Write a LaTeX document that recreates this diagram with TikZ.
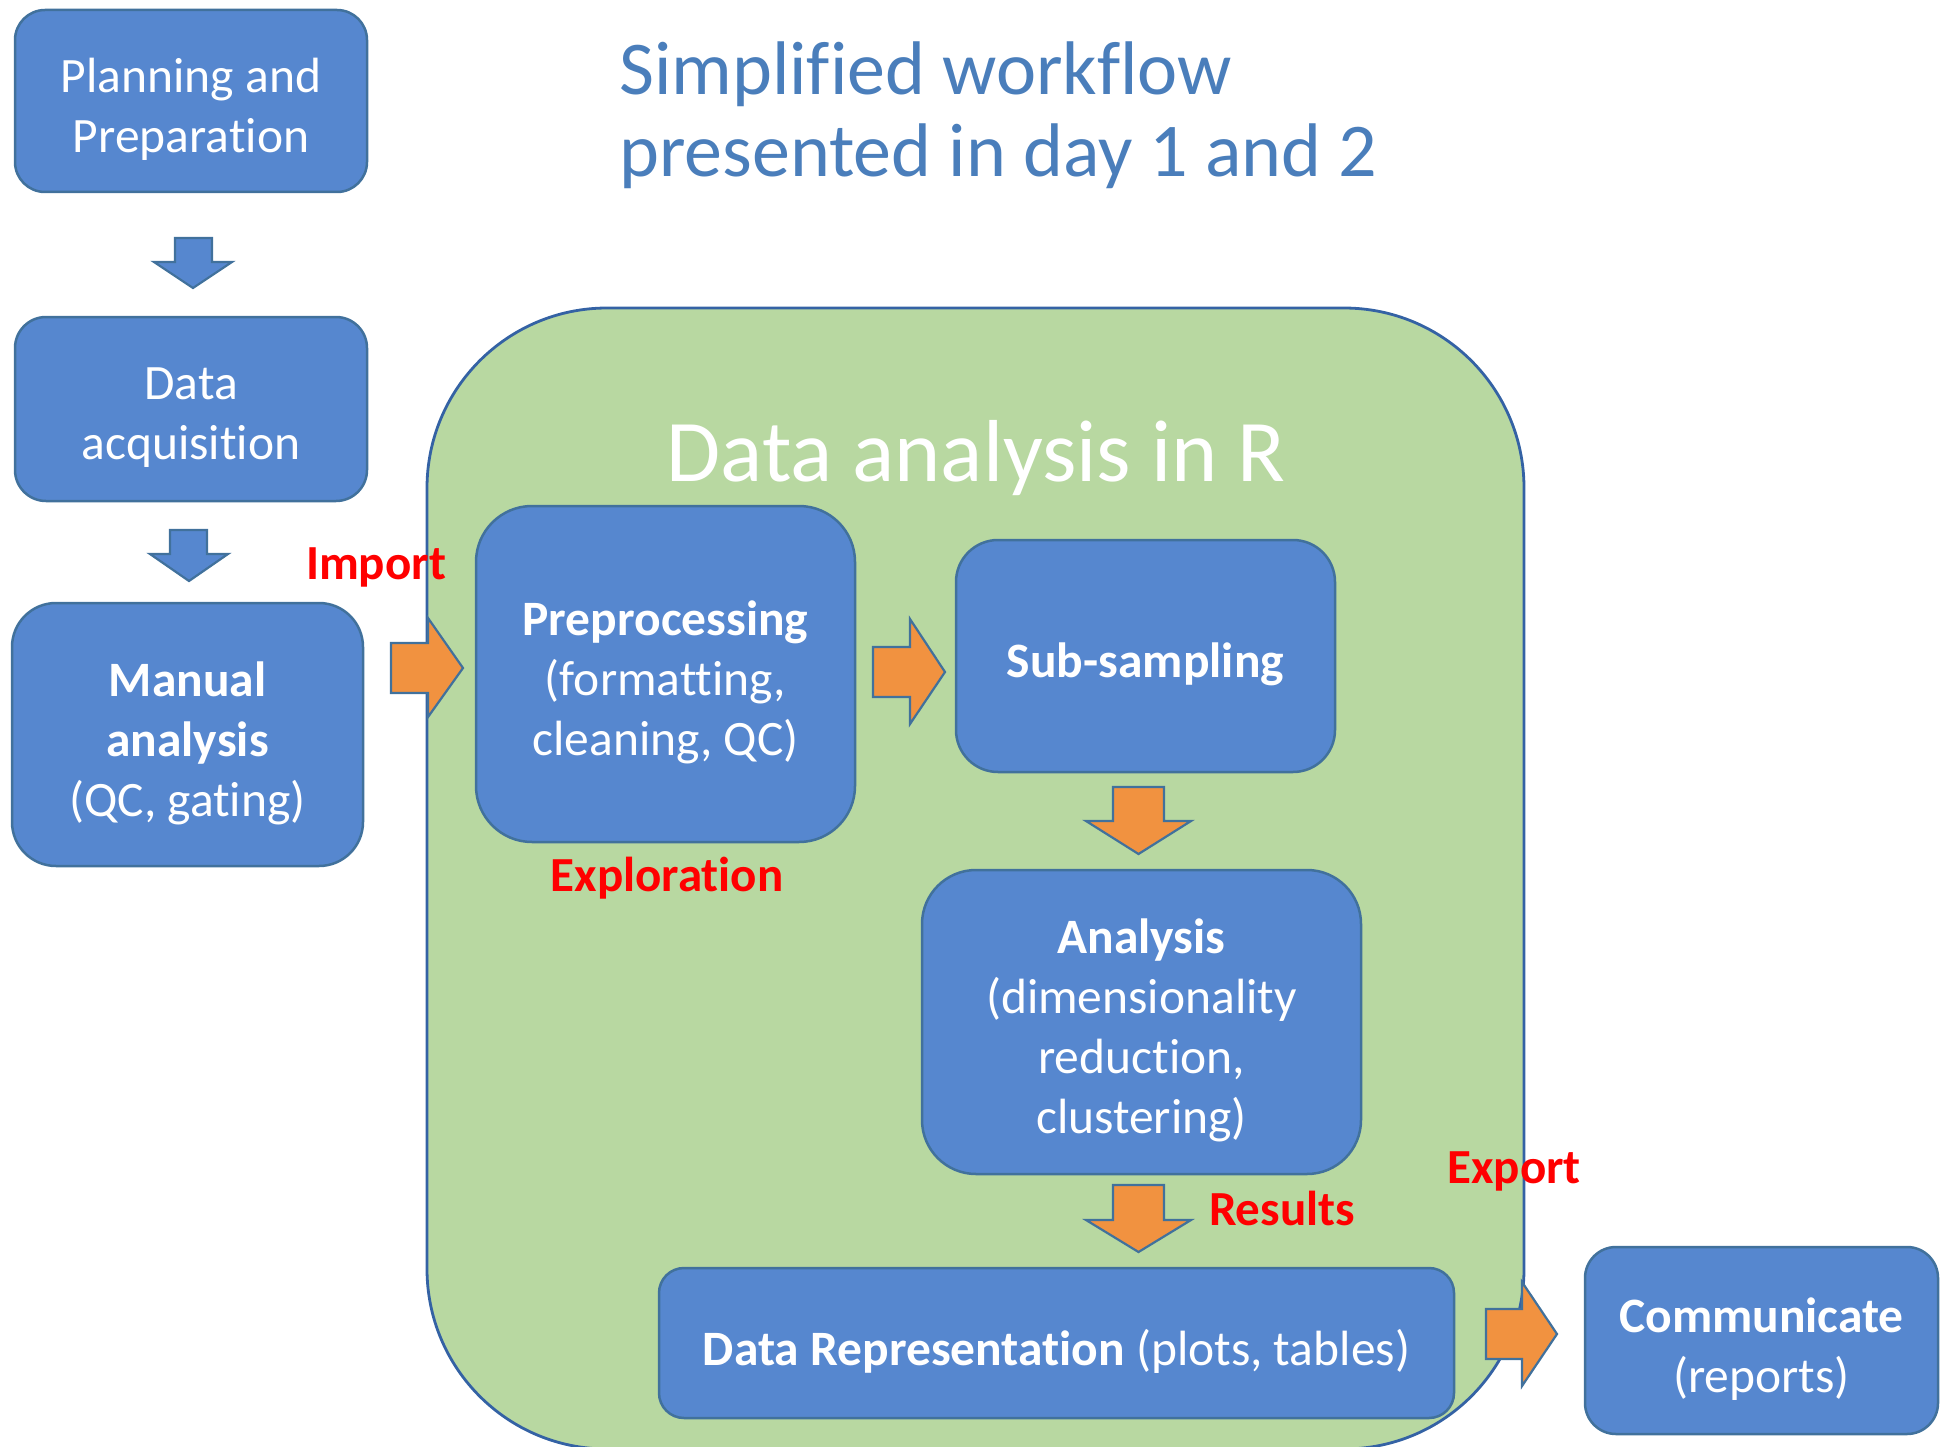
\documentclass[tikz,border=0pt]{standalone}
\usepackage{fontspec}
\setmainfont{Carlito}[Ligatures=NoCommon]
\definecolor{boxblue}{RGB}{86,135,207}
\definecolor{boxline}{RGB}{65,113,156}
\definecolor{panelgreen}{RGB}{184,216,161}
\definecolor{panelline}{RGB}{52,98,164}
\definecolor{flowarrow}{RGB}{241,146,64}
\definecolor{titleblue}{RGB}{74,126,187}
\tikzset{
  stepbox/.style={draw=boxline, fill=boxblue, line width=2.5pt, inner sep=0pt},
  steptext/.style={text=white, align=center, inner sep=0pt,
    font=\fontsize{49.5}{60}\selectfont, yshift=-8.5pt},
  bluearrow/.style={draw=boxline, fill=boxblue, line width=2.2pt},
  orangearrow/.style={draw=boxline, fill=flowarrow, line width=2.2pt},
  redlabel/.style={text=red, font=\fontsize{49}{58}\selectfont\bfseries,
    inner sep=0pt, anchor=base},
}
\begin{document}
\begin{tikzpicture}[x=1pt,y=-1pt]
\useasboundingbox (0,0) rectangle (1945,1447);

% green panel for the R part of the workflow
\draw[draw=panelline, fill=panelgreen, line width=2.8pt, rounded corners=180pt]
  (427,308) rectangle (1524,1449);
\node[text=white, font=\fontsize{88}{100}\selectfont, inner sep=0pt, anchor=base]
  (paneltitle) at (976,481) {Data analysis in R};

% heading
\node[text=titleblue, font=\fontsize{76}{83}\selectfont, inner sep=0pt, anchor=base west]
  (head1) at (619,95) {Simplified workflow};
\node[text=titleblue, font=\fontsize{76}{83}\selectfont, inner sep=0pt, anchor=base west]
  (head2) at (619,177) {presented in day 1 and 2};

% step boxes
\node[stepbox, minimum width=352pt, minimum height=182pt, rounded corners=30pt]
  (plan) at (191,101) {};
\node[stepbox, minimum width=352pt, minimum height=184pt, rounded corners=31pt]
  (acq) at (191,409) {};
\node[stepbox, minimum width=351pt, minimum height=263pt, rounded corners=44pt]
  (manual) at (187.5,734.5) {};
\node[stepbox, minimum width=379pt, minimum height=336pt, rounded corners=56pt]
  (prep) at (665.5,674) {};
\node[stepbox, minimum width=379pt, minimum height=232pt, rounded corners=42pt]
  (sub) at (1145.5,656) {};
\node[stepbox, minimum width=439pt, minimum height=304pt, rounded corners=54pt]
  (ana) at (1141.5,1022) {};
\node[stepbox, minimum width=795pt, minimum height=150pt, rounded corners=25pt]
  (rep) at (1056.5,1343) {};
\node[stepbox, minimum width=353pt, minimum height=187pt, rounded corners=31pt]
  (comm) at (1761.5,1340.5) {};

% step texts
\node[steptext] (plantext) at (plan.center) {Planning and\\Preparation};
\node[steptext] (acqtext) at (acq.center) {Data\\acquisition};
\node[steptext] (manualtext) at (manual.center)
  {\textbf{Manual}\\\textbf{analysis}\\(QC, gating)};
\node[steptext] (preptext) at (prep.center)
  {\textbf{Preprocessing}\\(formatting,\\cleaning, QC)};
\node[steptext] (subtext) at (sub.center) {\textbf{Sub-sampling}};
\node[steptext] (anatext) at (ana.center)
  {\textbf{Analysis}\\(dimensionality\\reduction,\\clustering)};
\node[steptext] (reptext) at (rep.center) {\textbf{Data Representation} (plots, tables)};
\node[steptext] (commtext) at (comm.center) {\textbf{Communicate}\\(reports)};

% block arrows between the steps
\draw[bluearrow] (175,238) -- (212,238) -- (212,262) -- (232,262) -- (193,288)
  -- (154,262) -- (175,262) -- cycle;
\draw[bluearrow] (170,530) -- (207,530) -- (207,554) -- (228,554) -- (189,581)
  -- (150,554) -- (170,554) -- cycle;
\draw[orangearrow] (391,643) -- (428,643) -- (428,618) -- (463,668) -- (428,717)
  -- (428,693) -- (391,693) -- cycle;
\draw[orangearrow] (873,647) -- (910,647) -- (910,619) -- (945,672) -- (910,724)
  -- (910,697) -- (873,697) -- cycle;
\draw[orangearrow] (1113,787) -- (1164,787) -- (1164,821) -- (1191,821) -- (1138.5,854)
  -- (1086,821) -- (1113,821) -- cycle;
\draw[orangearrow] (1113,1185) -- (1164,1185) -- (1164,1220) -- (1191,1220) -- (1138.5,1252)
  -- (1086,1220) -- (1113,1220) -- cycle;
\draw[orangearrow] (1486,1309) -- (1522,1309) -- (1522,1282) -- (1557,1334) -- (1522,1386)
  -- (1522,1359) -- (1486,1359) -- cycle;

% stage labels
\node[redlabel] (import) at (376,579) {Import};
\node[redlabel] (explore) at (667,891) {Exploration};
\node[redlabel] (results) at (1282,1225) {Results};
\node[redlabel] (export) at (1514,1183) {Export};
\end{tikzpicture}
\end{document}
